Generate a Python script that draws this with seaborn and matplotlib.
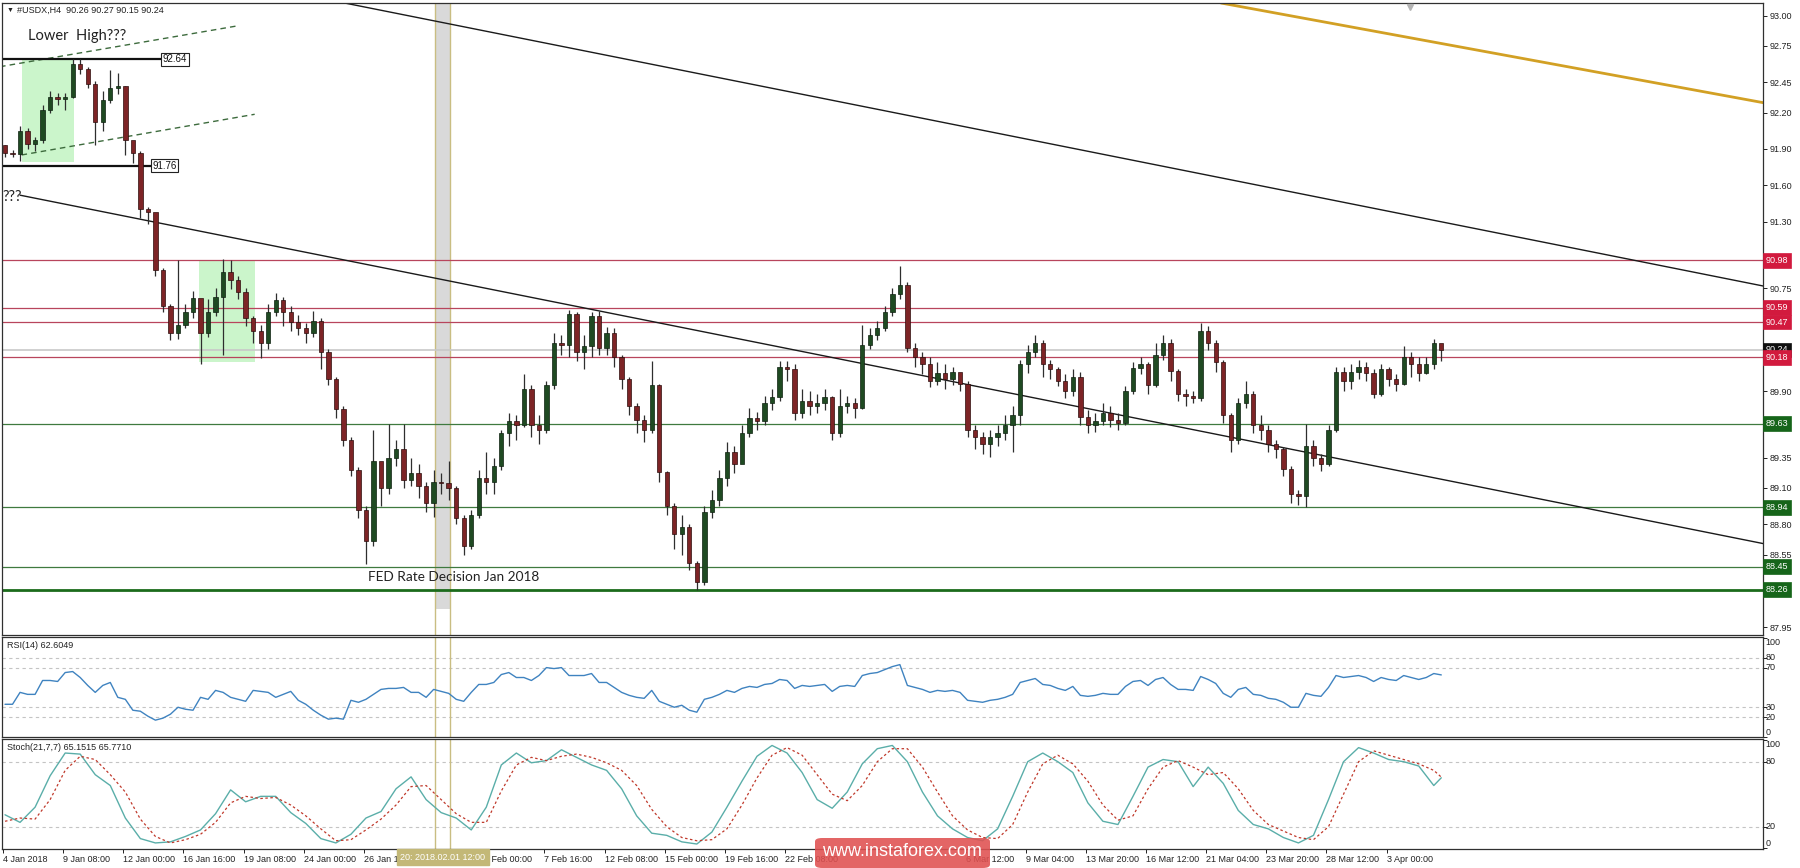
import numpy as np
import pandas as pd
import matplotlib
matplotlib.use("Agg")
import matplotlib.pyplot as plt
import seaborn as sns
from matplotlib import font_manager
from matplotlib.patches import Rectangle, FancyBboxPatch

# ---- price data: H4 bars merged in pairs (8h candles), 4 Jan - 4 Apr 2018 ----
first_open = 91.93
closes = [
    91.87, 91.86, 92.05, 91.94, 91.97, 92.22, 92.33, 92.31, 92.33, 92.60,
    92.56, 92.44, 92.12, 92.30, 92.40, 92.42, 91.97, 91.87, 91.40, 91.38,
    90.90, 90.60, 90.38, 90.45, 90.55, 90.67, 90.38, 90.55, 90.68, 90.88,
    90.82, 90.72, 90.50, 90.40, 90.30, 90.55, 90.65, 90.55, 90.47, 90.42,
    90.38, 90.48, 90.22, 90.00, 89.75, 89.50, 89.25, 88.92, 88.66, 89.32,
    89.10, 89.35, 89.42, 89.17, 89.22, 89.12, 88.98, 89.15, 89.14, 89.10,
    88.85, 88.62, 88.88, 89.18, 89.15, 89.28, 89.55, 89.65, 89.62, 89.92,
    89.62, 89.58, 89.95, 90.30, 90.28, 90.54, 90.22, 90.27, 90.52, 90.26,
    90.38, 90.18, 90.00, 89.78, 89.66, 89.58, 89.95, 89.23, 88.95, 88.72,
    88.78, 88.48, 88.32, 88.90, 89.00, 89.18, 89.40, 89.30, 89.55, 89.68,
    89.65, 89.80, 89.85, 90.10, 90.08, 89.72, 89.82, 89.78, 89.80, 89.85,
    89.55, 89.78, 89.80, 89.76, 90.28, 90.36, 90.42, 90.55, 90.70, 90.78,
    90.26, 90.18, 90.12, 89.98, 90.05, 90.00, 90.06, 89.96, 89.58, 89.52,
    89.46, 89.52, 89.55, 89.62, 89.70, 90.12, 90.22, 90.30, 90.12, 90.08,
    89.98, 89.90, 90.02, 89.69, 89.62, 89.65, 89.72, 89.66, 89.64, 89.90,
    90.09, 90.12, 89.95, 90.20, 90.30, 90.07, 89.88, 89.86, 89.84, 90.40,
    90.30, 90.14, 89.70, 89.50, 89.80, 89.88, 89.62, 89.58, 89.46, 89.42,
    89.26, 89.05, 89.03, 89.45, 89.35, 89.30, 89.58, 90.06, 89.98, 90.06,
    90.10, 90.05, 89.88, 90.08, 90.00, 89.96, 90.18, 90.12, 90.05, 90.12,
    90.30, 90.24,
]
highs = [
    91.93, 91.89, 92.09, 92.07, 92.00, 92.26, 92.38, 92.36, 92.36, 92.64,
    92.64, 92.58, 92.46, 92.38, 92.55, 92.53, 92.42, 91.94, 91.88, 91.42,
    91.36, 90.92, 90.62, 90.98, 90.62, 90.73, 90.62, 90.66, 90.75, 90.99,
    90.98, 90.85, 90.75, 90.52, 90.45, 90.62, 90.71, 90.68, 90.60, 90.53,
    90.46, 90.56, 90.50, 90.25, 90.02, 89.78, 89.52, 89.27, 88.95, 89.58,
    89.30, 89.63, 89.50, 89.63, 89.35, 89.30, 89.15, 89.25, 89.22, 89.32,
    89.12, 88.88, 88.92, 89.25, 89.40, 89.35, 89.58, 89.72, 89.70, 90.04,
    89.95, 89.70, 89.98, 90.38, 90.36, 90.57, 90.55, 90.36, 90.55, 90.56,
    90.43, 90.42, 90.20, 90.02, 89.80, 89.70, 90.15, 89.96, 89.24, 88.98,
    88.88, 88.80, 88.50, 88.95, 89.08, 89.25, 89.48, 89.45, 89.62, 89.76,
    89.73, 89.86, 89.92, 90.15, 90.15, 90.12, 89.92, 89.90, 89.88, 89.92,
    89.86, 89.92, 89.86, 89.84, 90.45, 90.42, 90.48, 90.60, 90.75, 90.93,
    90.80, 90.30, 90.22, 90.18, 90.14, 90.12, 90.10, 90.04, 89.98, 89.62,
    89.56, 89.58, 89.62, 89.70, 89.78, 90.16, 90.28, 90.36, 90.32, 90.16,
    90.10, 90.04, 90.08, 90.06, 89.74, 89.72, 89.80, 89.78, 89.72, 89.94,
    90.14, 90.18, 90.14, 90.30, 90.36, 90.33, 90.08, 89.92, 89.90, 90.46,
    90.44, 90.32, 90.16, 89.72, 89.84, 89.98, 89.90, 89.70, 89.62, 89.50,
    89.44, 89.28, 89.08, 89.63, 89.50, 89.38, 89.62, 90.10, 90.10, 90.12,
    90.16, 90.14, 90.08, 90.12, 90.10, 90.04, 90.27, 90.22, 90.18, 90.18,
    90.33, 90.28,
]
lows = [
    91.83, 91.83, 91.80, 91.90, 91.88, 91.95, 92.20, 92.26, 92.22, 92.32,
    92.52, 92.40, 91.93, 92.05, 92.28, 92.35, 91.85, 91.78, 91.33, 91.28,
    90.85, 90.55, 90.32, 90.33, 90.42, 90.50, 90.12, 90.35, 90.52, 90.20,
    90.74, 90.66, 90.44, 90.30, 90.17, 90.25, 90.52, 90.44, 90.40, 90.36,
    90.30, 90.35, 90.08, 89.95, 89.68, 89.45, 89.20, 88.85, 88.47, 88.62,
    88.95, 89.05, 89.28, 89.10, 89.12, 89.02, 88.90, 88.86, 89.05, 89.00,
    88.80, 88.55, 88.60, 88.85, 89.05, 89.05, 89.25, 89.45, 89.50, 89.60,
    89.52, 89.46, 89.55, 89.92, 90.20, 90.18, 90.15, 90.08, 90.18, 90.20,
    90.20, 90.10, 89.92, 89.70, 89.55, 89.48, 89.55, 89.15, 88.88, 88.60,
    88.55, 88.42, 88.26, 88.30, 88.85, 88.95, 89.12, 89.22, 89.34, 89.52,
    89.58, 89.62, 89.74, 89.82, 89.98, 89.66, 89.68, 89.70, 89.72, 89.74,
    89.50, 89.52, 89.72, 89.68, 89.75, 90.25, 90.32, 90.40, 90.52, 90.66,
    90.22, 90.10, 90.04, 89.93, 89.95, 89.92, 89.95, 89.90, 89.52, 89.42,
    89.38, 89.36, 89.45, 89.50, 89.40, 89.62, 90.05, 90.18, 90.02, 90.00,
    89.94, 89.84, 89.86, 89.62, 89.55, 89.56, 89.62, 89.60, 89.58, 89.62,
    89.88, 90.04, 89.88, 89.93, 90.16, 89.98, 89.82, 89.78, 89.80, 89.82,
    90.24, 90.06, 89.64, 89.40, 89.46, 89.76, 89.55, 89.50, 89.40, 89.35,
    89.20, 88.98, 88.96, 88.94, 89.28, 89.24, 89.28, 89.56, 89.90, 89.92,
    90.00, 89.98, 89.84, 89.86, 89.94, 89.90, 89.95, 90.02, 89.98, 90.04,
    90.08, 90.15,
]

# ---- indicators ----
rsi_values = [
    33, 33, 45, 43, 43, 57, 57, 56, 65, 66,
    60, 52, 45, 52, 55, 40, 38, 27, 26, 21,
    17, 19, 23, 30, 28, 27, 40, 38, 47, 45,
    40, 38, 36, 47, 46, 45, 40, 43, 46, 37,
    33, 27, 22, 18, 19, 18, 37, 35, 38, 43,
    48, 49, 49, 50, 45, 45, 40, 48, 46, 44,
    38, 36, 45, 53, 53, 55, 63, 65, 60, 60,
    57, 62, 70, 69, 70, 62, 62, 62, 64, 55,
    55, 50, 45, 42, 40, 39, 47, 36, 33, 30,
    32, 27, 25, 38, 40, 43, 47, 45, 49, 51,
    50, 53, 54, 58, 57, 49, 52, 51, 52, 53,
    46, 51, 52, 51, 62, 64, 65, 68, 71, 73,
    52, 50, 48, 45, 47, 46, 47, 45, 37, 36,
    35, 37, 38, 40, 43, 55, 57, 59, 53, 52,
    49, 47, 51, 42, 41, 42, 44, 43, 43, 51,
    56, 57, 52, 58, 60, 53, 48, 48, 47, 61,
    58, 54, 44, 40, 48, 50, 43, 42, 39, 38,
    35, 30, 30, 44, 42, 41, 50, 62, 60, 61,
    62, 60, 56, 60, 58, 57, 62, 60, 58, 60,
    64, 62.6,
]
stoch_main = [
    31, 24, 38, 67, 88, 87, 68, 58, 28, 9,
    5, 6, 11, 17, 32, 54, 43, 48, 48, 33,
    23, 9, 5, 13, 28, 34, 55, 66, 45, 33,
    28, 17, 38, 77, 88, 79, 81, 91, 84, 77,
    72, 55, 30, 14, 12, 6, 4, 15, 38, 62,
    85, 95, 88, 70, 45, 37, 52, 78, 92, 95,
    80, 52, 30, 18, 10, 7, 18, 48, 80, 88,
    80, 70, 42, 25, 22, 48, 75, 82, 80, 57,
    75, 60, 35, 22, 18, 10, 5, 12, 45, 80,
    93, 88, 82, 80, 76, 58, 65.15,
]
stoch_signal = [
    25, 28, 27, 45, 72, 85, 82, 68, 52, 27,
    11, 5, 8, 13, 24, 42, 48, 46, 47, 40,
    30, 18, 7, 8, 17, 27, 40, 57, 58, 45,
    32, 24, 24, 53, 77, 84, 81, 85, 87, 84,
    79, 72, 58, 36, 20, 10, 7, 8, 18, 40,
    65, 86, 93, 86, 68, 50, 44, 58, 80, 92,
    92, 75, 52, 30, 17, 10, 9, 22, 52, 78,
    86, 78, 62, 40, 26, 30, 55, 75, 81, 75,
    68, 70, 55, 35, 22, 16, 10, 8, 20, 50,
    80, 90, 86, 82, 78, 72, 65.77,
]

# labels fully hidden under the cursor box / watermark are left blank
x_tick_labels = [
    "4 Jan 2018", "9 Jan 08:00", "12 Jan 00:00", "16 Jan 16:00", "19 Jan 08:00",
    "24 Jan 00:00", "26 Jan 16:00", "", "5 Feb 00:00", "7 Feb 16:00",
    "12 Feb 08:00", "15 Feb 00:00", "19 Feb 16:00", "22 Feb 08:00", "",
    "", "6 Mar 12:00", "9 Mar 04:00", "13 Mar 20:00", "16 Mar 12:00",
    "21 Mar 04:00", "23 Mar 20:00", "28 Mar 12:00", "3 Apr 00:00",
]
price_ticks = [93.00, 92.75, 92.45, 92.20, 91.90, 91.60, 91.30, 90.75,
               89.90, 89.35, 89.10, 88.80, 88.55, 87.95]

red_levels = [90.98, 90.59, 90.47, 90.18]
green_levels = [89.63, 88.94, 88.45]
strong_support = 88.26
last_price = 90.24
swing_high, swing_low = 92.64, 91.76

# drawn objects, anchors in (candle index, price)
trend_upper = [(45.4, 93.102), (233.8, 90.768)]
trend_lower = [(2.0, 91.518), (233.8, 88.641)]
gold_line = [(161.7, 93.105), (233.8, 92.282)]
channel_top = [(-0.66, 92.579), (30.8, 92.915)]
channel_bottom = [(2.2, 91.850), (33.2, 92.186)]
zones = [(2.22, 9.18, 91.79, 92.64), (25.8, 33.3, 90.14, 90.975)]
fed_window = (57.18, 59.18)

# ---- style ----
sns.set_style("white")
fams = {f.name for f in font_manager.fontManager.ttflist}
plt.rcParams['font.family'] = ['Liberation Sans', 'DejaVu Sans']
note_font = 'Lato' if 'Lato' in fams else 'DejaVu Sans'
wm_font = 'Liberation Sans Narrow' if 'Liberation Sans Narrow' in fams else 'Liberation Sans'

W, H = 1800, 868
def rect(x0, y0, x1, y1):
    return [x0 / W, 1 - y1 / H, (x1 - x0) / W, (y1 - y0) / H]

fig = plt.figure(figsize=(W / 100, H / 100), dpi=100)
fig.patch.set_facecolor('white')
ax = fig.add_axes(rect(2, 3, 1763, 635))
ax_rsi = fig.add_axes(rect(2, 637, 1763, 737), sharex=ax)
ax_st = fig.add_axes(rect(2, 739, 1763, 849), sharex=ax)

for a in (ax, ax_rsi, ax_st):
    for s in a.spines.values():
        s.set_color('#303030')
        s.set_linewidth(0.9)
    a.set_facecolor('white')
    a.yaxis.tick_right()
    a.tick_params(axis='y', length=3, width=0.7, pad=2, labelsize=6.5, colors='#222222')
    a.tick_params(axis='x', bottom=False, labelbottom=False)
    for xv in fed_window:
        a.axvline(xv, color='#c9bd82', lw=1.0, zorder=1)

ax.set_xlim(-0.4, 233.78)
ax.set_ylim(87.886, 93.105)

# ---- candles ----
c = np.array(closes)
o = np.r_[first_open, c[:-1]]
idx = np.arange(len(c))
up = c >= o
ax.vlines(idx, lows, highs, color='#2e2e2e', lw=0.9, zorder=3)
ax.bar(idx[up], (c - o)[up], bottom=o[up], width=0.58, color='#1f4a22',
       edgecolor='#0d200f', linewidth=0.5, zorder=4)
ax.bar(idx[~up], (o - c)[~up], bottom=c[~up], width=0.58, color='#7d2426',
       edgecolor='#2c0c0c', linewidth=0.5, zorder=4)

# ---- zones / band ----
for x0, x1, y0, y1 in zones:
    ax.add_patch(Rectangle((x0, y0), x1 - x0, y1 - y0, color='#cbf5cb', zorder=0.6, lw=0))
ax.add_patch(Rectangle((fed_window[0], 88.10), fed_window[1] - fed_window[0], 5.2,
                       color='#d9d9d9', zorder=0.5, lw=0))

# ---- levels ----
for lv in red_levels:
    ax.axhline(lv, color='#b8455c', lw=0.9, zorder=1.5)
for lv in green_levels:
    ax.axhline(lv, color='#3f7a3f', lw=0.9, zorder=1.5)
ax.axhline(strong_support, color='#1b6b1b', lw=2.0, zorder=1.5)
ax.axhline(last_price, color='#c8c8c8', lw=1.2, zorder=1.4)

# ---- trend lines ----
for line, col, lw in ((trend_upper, '#1a1a1a', 1.0), (trend_lower, '#1a1a1a', 1.0),
                      (gold_line, '#d2a024', 2.0)):
    (x0, y0), (x1, y1) = line
    ax.plot([x0, x1], [y0, y1], color=col, lw=lw, zorder=2)
for line in (channel_top, channel_bottom):
    (x0, y0), (x1, y1) = line
    ax.plot([x0, x1], [y0, y1], color='#3d6b3d', lw=1.0, ls=(0, (4, 3)), zorder=2)

ax.plot([-0.4, 21.0], [swing_high, swing_high], color='#111111', lw=1.6, zorder=2)
ax.plot([-0.4, 19.6], [swing_low, swing_low], color='#111111', lw=1.6, zorder=2)
ax.text(21.0, swing_high, f"{swing_high:.2f}", ha='left', va='center', fontsize=7,
        color='#111111', zorder=6,
        bbox=dict(boxstyle='square,pad=0.15', fc='white', ec='#222222', lw=0.8))
ax.text(19.6, swing_low, f"{swing_low:.2f}", ha='left', va='center', fontsize=7,
        color='#111111', zorder=6,
        bbox=dict(boxstyle='square,pad=0.15', fc='white', ec='#222222', lw=0.8))
ax.plot(186.8, 93.07, marker='v', color='#b4b4b4', ms=5, zorder=5)

# ---- notes ----
ax.text(3.06, 92.832, "Lower  High???", fontsize=10.5, family=note_font,
        color='#222222', ha='left', va='center', zorder=6)
ax.text(-0.35, 91.503, "???", fontsize=10.5, family=note_font,
        color='#222222', ha='left', va='center', zorder=6)
ax.text(59.7, 88.362, "FED Rate Decision Jan 2018", fontsize=9.8, family=note_font,
        color='#222222', ha='center', va='center', zorder=6)

# ---- right axis ----
ax.set_yticks(price_ticks)
ax.set_yticklabels([f"{t:.2f}" for t in price_ticks])

def level_box(axis, text, y, fc, tc='white', z=10):
    axis.annotate(text, xy=(1.0016, y), xycoords=('axes fraction', 'data'),
                  ha='left', va='center', fontsize=6.5, color=tc, zorder=z,
                  annotation_clip=False,
                  bbox=dict(boxstyle='square,pad=0.32', fc=fc, ec=fc, lw=0.5))

level_box(ax, f"{last_price:.2f}", last_price, '#101010', z=9)
for lv in red_levels:
    level_box(ax, f"{lv:.2f}", lv, '#d21a3e')
for lv in green_levels + [strong_support]:
    level_box(ax, f"{lv:.2f}", lv, '#16651a')

# ---- RSI ----
sns.lineplot(x=idx, y=rsi_values, ax=ax_rsi, color='#3f83c0', lw=1.0)
ax_rsi.set_ylim(0.16, 100.85)
for lv in (80, 70, 30, 20):
    ax_rsi.axhline(lv, color='#c4c4c4', lw=0.8, ls=(0, (3, 3)), zorder=0.8)
ax_rsi.set_yticks([0, 20, 30, 70, 80, 100])
ax_rsi.set_yticklabels([])
ax_rsi.set_ylabel('')

# ---- Stochastic ----
st_idx = np.r_[np.arange(0, 191, 2), 191]
st_df = pd.DataFrame({'k': st_idx, 'main': stoch_main, 'signal': stoch_signal})
sns.lineplot(data=st_df, x='k', y='main', ax=ax_st, color='#5aaea9', lw=1.0)
sns.lineplot(data=st_df, x='k', y='signal', ax=ax_st, color='#c0392b', lw=0.9)
ax_st.lines[-1].set_linestyle((0, (2, 2)))
ax_st.set_ylim(-0.6, 100.95)
for lv in (80, 20):
    ax_st.axhline(lv, color='#c4c4c4', lw=0.8, ls=(0, (3, 3)), zorder=0.8)
ax_st.set_yticks([0, 20, 80, 100])
ax_st.set_yticklabels([])
ax_st.set_ylabel('')
ax_st.set_xlabel('')

for axis, vals in ((ax_rsi, (100, 80, 70, 30, 20, 0)), (ax_st, (100, 80, 20, 0))):
    for v in vals:
        va = 'top' if v == 100 else ('bottom' if v == 0 else 'center')
        axis.annotate(str(v), xy=(1.0016, v), xycoords=('axes fraction', 'data'),
                      ha='left', va=va, fontsize=6.5, color='#222222',
                      annotation_clip=False)

tick_pos = np.arange(len(x_tick_labels)) * 8 - 0.27
ax_st.set_xticks(tick_pos)
ax_st.set_xticklabels(x_tick_labels, ha='left')
ax_st.tick_params(axis='x', bottom=True, labelbottom=True, length=3, width=0.7,
                  pad=1.5, labelsize=6.5, colors='#222222')
ax_st.set_xlim(-0.4, 233.78)

# ---- headers ----
fig.text(7 / W, 1 - 10 / H, "\u25BC", fontsize=5, color='#222222', va='center')
fig.text(17 / W, 1 - 10 / H, "#USDX,H4  90.26 90.27 90.15 90.24", fontsize=6.5,
         color='#222222', va='center')
fig.text(7 / W, 1 - 646 / H, "RSI(14) 62.6049", fontsize=6.5, color='#222222', va='center')
fig.text(7 / W, 1 - 747 / H, "Stoch(21,7,7) 65.1515 65.7710", fontsize=6.5,
         color='#222222', va='center')

fig.text(443 / W, 1 - 857 / H, "20: 2018.02.01 12:00", fontsize=6.5, color='white',
         ha='center', va='center',
         bbox=dict(boxstyle='square,pad=0.35', fc='#c3b877', ec='#c3b877'))

# ---- watermark ----
fig.patches.append(FancyBboxPatch((815 / W, 0), 175 / W, 30 / H,
                                  boxstyle='round,pad=0,rounding_size=0.004',
                                  transform=fig.transFigure, fc='#e05050', ec='none',
                                  alpha=0.88, zorder=5))
fig.text(902 / W, 1 - 852 / H, "www.instaforex.com", fontsize=13, family=wm_font,
         color='white', ha='center', va='center', zorder=6)

fig.savefig('out.png', dpi=100)
